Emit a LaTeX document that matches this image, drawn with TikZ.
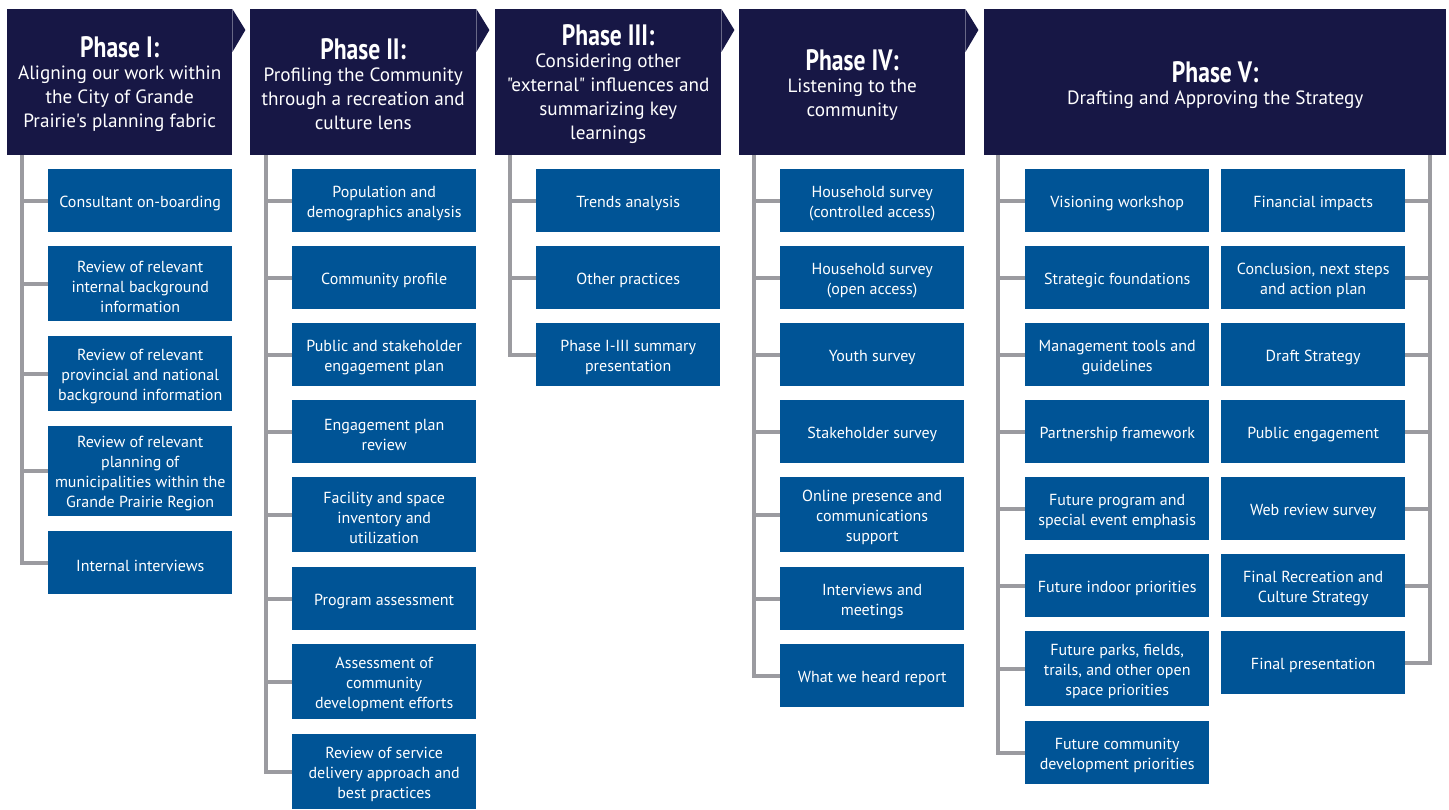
\documentclass[tikz,border=0pt]{standalone}
\usepackage{fontspec}
\setmainfont{PT Sans}[Ligatures=TeXOff]
\newfontfamily\titlefont{PT Sans}[FakeStretch=0.8, Ligatures=TeXOff]
\definecolor{navy}{RGB}{23,23,69}
\definecolor{itemblue}{RGB}{0,84,150}
\definecolor{linegray}{RGB}{155,155,160}
\tikzset{
  headbox/.style={fill=navy, anchor=north west, minimum height=146, inner sep=0},
  headtext/.style={text=white, inner sep=0, align=center,
    font=\fontsize{19.2}{24}\selectfont},
  item/.style={fill=itemblue, anchor=north west, minimum width=184,
    minimum height=63, inner sep=0},
  itemtext/.style={text=white, inner sep=0, align=center,
    font=\fontsize{16}{20}\selectfont},
  tall/.style={minimum height=75},
  taller/.style={minimum height=90},
  conn/.style={draw=linegray, line width=4pt},
  chevron/.style={fill=navy}
}
\newcommand{\phtitle}[1]{{\fontsize{29.5}{30}\titlefont\bfseries #1}\\[-2pt]}
% task box: \taskbox[options]{name}{top-left corner}{text}
\newcommand{\taskbox}[4][]{%
  \node[item,#1] (#2) at (#3) {};
  \node[itemtext] (#2t) at ([yshift=-2.8pt]#2.center) {#4};}
\begin{document}
\begin{tikzpicture}[x=1pt,y=-1pt]
\useasboundingbox (0,0) rectangle (1449,809);

% ---------- phase headers ----------
\node[headbox, minimum width=225] (h1) at (7,9) {};
\node[headbox, minimum width=226] (h2) at (250,9) {};
\node[headbox, minimum width=226] (h3) at (495,9) {};
\node[headbox, minimum width=226] (h4) at (739,9) {};
\node[headbox, minimum width=462] (h5) at (984,9) {};

% arrow tips on the headers
\foreach \h in {h1,h2,h3,h4}
  \fill[chevron] (\h.north east) -- ++(13,21) -- ++(-13,22) -- cycle;

\node[headtext] (h1t) at ([yshift=-2pt]h1.center)
  {\phtitle{Phase I:}Aligning our work within\\the City of Grande\\Prairie's planning fabric};
\node[headtext] (h2t) at ([yshift=-2pt]h2.center)
  {\phtitle{Phase II:}Profiling the Community\\through a recreation and\\culture lens};
\node[headtext] (h3t) at ([yshift=-2pt]h3.center)
  {\phtitle{Phase III:}Considering other\\"external" influences and\\summarizing key\\learnings};
\node[headtext] (h4t) at ([yshift=-3pt]h4.center)
  {\phtitle{Phase IV:}Listening to the\\community};
\node[headtext] (h5t) at ([yshift=-2.5pt]h5.center)
  {\phtitle{Phase V:}Drafting and Approving the Strategy};

% ---------- Phase I ----------
\taskbox{a1}{48,169}{Consultant on-boarding}
\taskbox[tall]{a2}{48,246}{Review of relevant\\internal background\\information}
\taskbox[tall]{a3}{48,336}{Review of relevant\\provincial and national\\background information}
\taskbox[taller]{a4}{48,426}{Review of relevant\\planning of\\municipalities within the\\Grande Prairie Region}
\taskbox{a5}{48,531}{Internal interviews}

% ---------- Phase II ----------
\taskbox{b1}{292,169}{Population and\\demographics analysis}
\taskbox{b2}{292,246}{Community profile}
\taskbox{b3}{292,323}{Public and stakeholder\\engagement plan}
\taskbox{b4}{292,400}{Engagement plan\\review}
\taskbox[tall]{b5}{292,477}{Facility and space\\inventory and\\utilization}
\taskbox{b6}{292,567}{Program assessment}
\taskbox[tall]{b7}{292,644}{Assessment of\\community\\development efforts}
\taskbox[tall]{b8}{292,734}{Review of service\\delivery approach and\\best practices}

% ---------- Phase III ----------
\taskbox{c1}{536,169}{Trends analysis}
\taskbox{c2}{536,246}{Other practices}
\taskbox{c3}{536,323}{Phase I-III summary\\presentation}

% ---------- Phase IV ----------
\taskbox{d1}{780,169}{Household survey\\(controlled access)}
\taskbox{d2}{780,246}{Household survey\\(open access)}
\taskbox{d3}{780,323}{Youth survey}
\taskbox{d4}{780,400}{Stakeholder survey}
\taskbox[tall]{d5}{780,477}{Online presence and\\communications\\support}
\taskbox{d6}{780,567}{Interviews and\\meetings}
\taskbox{d7}{780,644}{What we heard report}

% ---------- Phase V, left column ----------
\taskbox{e1}{1025,169}{Visioning workshop}
\taskbox{e2}{1025,246}{Strategic foundations}
\taskbox{e3}{1025,323}{Management tools and\\guidelines}
\taskbox{e4}{1025,400}{Partnership framework}
\taskbox{e5}{1025,477}{Future program and\\special event emphasis}
\taskbox{e6}{1025,554}{Future indoor priorities}
\taskbox[tall]{e7}{1025,631}{Future parks, fields,\\trails, and other open\\space priorities}
\taskbox{e8}{1025,721}{Future community\\development priorities}

% ---------- Phase V, right column ----------
\taskbox{f1}{1221,169}{Financial impacts}
\taskbox{f2}{1221,246}{Conclusion, next steps\\and action plan}
\taskbox{f3}{1221,323}{Draft Strategy}
\taskbox{f4}{1221,400}{Public engagement}
\taskbox{f5}{1221,477}{Web review survey}
\taskbox{f6}{1221,554}{Final Recreation and\\Culture Strategy}
\taskbox{f7}{1221,631}{Final presentation}

% ---------- trunks and branches ----------
\coordinate (ta) at (22,155);
\coordinate (tb) at (266,155);
\coordinate (tc) at (510,155);
\coordinate (td) at (754,155);
\coordinate (te) at (998,155);
\coordinate (tf) at (1430,155);

\draw[conn] (ta) |- (a5.west);
\foreach \n in {a1,a2,a3,a4} \draw[conn] (ta |- \n.west) -- (\n.west);

\draw[conn] (tb) |- (b8.west);
\foreach \n in {b1,b2,b3,b4,b5,b6,b7} \draw[conn] (tb |- \n.west) -- (\n.west);

\draw[conn] (tc) |- (c3.west);
\foreach \n in {c1,c2} \draw[conn] (tc |- \n.west) -- (\n.west);

\draw[conn] (td) |- (d7.west);
\foreach \n in {d1,d2,d3,d4,d5,d6} \draw[conn] (td |- \n.west) -- (\n.west);

\draw[conn] (te) |- (e8.west);
\foreach \n in {e1,e2,e3,e4,e5,e6,e7} \draw[conn] (te |- \n.west) -- (\n.west);

\draw[conn] (tf) |- (f7.east);
\foreach \n in {f1,f2,f3,f4,f5,f6} \draw[conn] (tf |- \n.east) -- (\n.east);
\end{tikzpicture}
\end{document}
